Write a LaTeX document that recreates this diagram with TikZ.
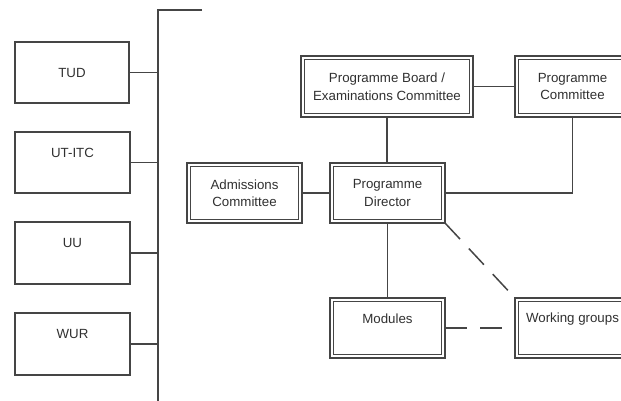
\documentclass[tikz,border=0pt]{standalone}
\usepackage{fontspec}
\setmainfont{Liberation Sans}
\definecolor{linec}{HTML}{454545}
\definecolor{textc}{HTML}{303030}
\begin{document}
\begin{tikzpicture}[x=1pt,y=-1pt,
  boxfont/.style={font=\fontsize{13.3}{17.5}\selectfont, text=textc},
  sbox/.style={draw=linec, line width=1.5pt, rectangle, anchor=north west, inner sep=0pt, outer sep=0pt, align=center, boxfont},
  dbox/.style={sbox, line width=2.2pt},
  toplabel/.style={label={[anchor=center, yshift=-21pt, boxfont]north:#1}},
  conn/.style={draw=linec, line width=1.5pt},
  dashconn/.style={conn, dash pattern=on 22pt off 13pt},
  inner/.style={draw=linec, line width=1pt}
]
\useasboundingbox (0,0) rectangle (621,400);
\clip (0,0) rectangle (621,400);
% left column
\node[sbox, minimum width=114pt, minimum height=61pt] (tud) at (15,42) {TUD};
\node[sbox, minimum width=115pt, minimum height=61pt, toplabel={UT-ITC}] (utitc) at (15,132) {};
\node[sbox, minimum width=115pt, minimum height=62pt, toplabel={UU}] (uu) at (15,222) {};
\node[sbox, minimum width=115pt, minimum height=62pt, toplabel={WUR}] (wur) at (15,313) {};
% bus
\coordinate (bt) at (158,10);
\coordinate (bb) at (158,402);
\coordinate (tr) at (202,10);
\draw[conn] (tr) -- (bt) -- (bb);
\foreach \n in {tud,utitc,uu,wur}{\draw[conn] (\n.east) -- (\n.east -| bt);}
% double boxes
\node[dbox, minimum width=172pt, minimum height=61pt] (pb) at (301,56) {Programme Board /\\Examinations Committee};
\node[dbox, minimum width=115pt, minimum height=61pt] (pc) at (515,56) {Programme\\Committee};
\node[dbox, minimum width=115pt, minimum height=60pt] (ac) at (187,163) {Admissions\\Committee};
\node[dbox, minimum width=115pt, minimum height=60pt] (pd) at (330,163) {Programme\\Director};
\node[dbox, minimum width=115pt, minimum height=60pt, toplabel={Modules}] (mod) at (330,298) {};
\node[dbox, minimum width=115pt, minimum height=60pt, toplabel={Working groups}] (wg) at (515,298) {};
\foreach \n in {pb,pc,ac,pd,mod,wg}{
  \draw[inner] ([xshift=3.6pt,yshift=-3.6pt]\n.north west) rectangle ([xshift=-3.6pt,yshift=3.6pt]\n.south east);
}
% connectors
\draw[conn] (pb.east) -- (pc.west);
\draw[conn] (pb.south) -- (pb.south |- pd.north);
\draw[conn] (ac.east) -- (pd.west);
\draw[conn] (pd.east) -- (pd.east -| pc.south) -- (pc.south);
\draw[conn] (pd.south) -- (pd.south |- mod.north);
\draw[dashconn] (pd.south east) -- (wg.north west);
\draw[dashconn] (mod.east) -- (mod.east -| wg.west);
\end{tikzpicture}
\end{document}
